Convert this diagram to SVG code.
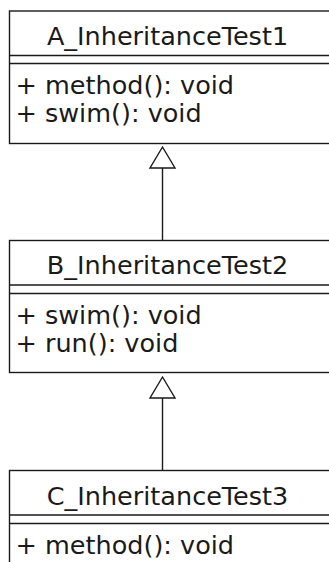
<svg xmlns="http://www.w3.org/2000/svg" width="329" height="562" viewBox="0 0 329 562">
<style>
.box{fill:#fff;stroke:#1a1a1a;stroke-width:1.4}
.sep{stroke:#1a1a1a;stroke-width:1.4;fill:none}
.title{font-family:"DejaVu Sans",Verdana,sans-serif;font-size:25.5px;fill:#1a1a1a;text-anchor:middle}
.op{font-family:"DejaVu Sans",Verdana,sans-serif;font-size:25.5px;fill:#1a1a1a}
.edge{stroke:#1a1a1a;stroke-width:1.4;fill:none}
.head{fill:#fff;stroke:#1a1a1a;stroke-width:1.4;stroke-linejoin:miter}
</style>
<rect width="329" height="562" fill="#fff"/>
<g id="connectors">
<line class="edge" x1="162.5" y1="168" x2="162.5" y2="240"/>
<polygon class="head" points="162.5,147 150,168 175,168"/>
<line class="edge" x1="162.5" y1="398" x2="162.5" y2="470"/>
<polygon class="head" points="162.5,377 150,398 175,398"/>
</g>
<g id="A_InheritanceTest1">
<rect class="box" x="9.5" y="11" width="340" height="132.5"/>
<line class="sep" x1="9.5" y1="55.5" x2="340" y2="55.5"/>
<line class="sep" x1="9.5" y1="63.5" x2="340" y2="63.5"/>
<text class="title" x="167.5" y="44.5">A_InheritanceTest1</text>
<text class="op" x="15.5" y="94">+ method(): void</text>
<text class="op" x="15.5" y="121.5">+ swim(): void</text>
</g>
<g id="B_InheritanceTest2">
<rect class="box" x="9.5" y="240.5" width="340" height="132"/>
<line class="sep" x1="9.5" y1="285" x2="340" y2="285"/>
<line class="sep" x1="9.5" y1="293.5" x2="340" y2="293.5"/>
<text class="title" x="167.5" y="274">B_InheritanceTest2</text>
<text class="op" x="15.5" y="324">+ swim(): void</text>
<text class="op" x="15.5" y="351.5">+ run(): void</text>
</g>
<g id="C_InheritanceTest3">
<rect class="box" x="9.5" y="470.5" width="340" height="132"/>
<line class="sep" x1="9.5" y1="515" x2="340" y2="515"/>
<line class="sep" x1="9.5" y1="523.5" x2="340" y2="523.5"/>
<text class="title" x="167.5" y="504.5">C_InheritanceTest3</text>
<text class="op" x="15.5" y="554">+ method(): void</text>
</g>
</svg>
